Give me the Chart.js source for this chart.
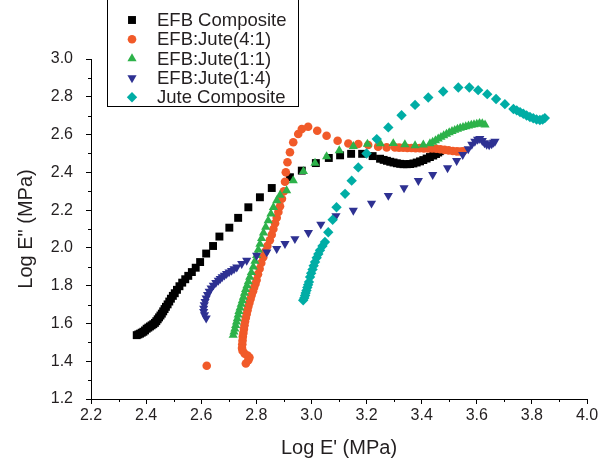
<!DOCTYPE html>
<html lang="en">
<head>
  <meta charset="UTF-8" />
  <title>Log E'' vs Log E'</title>
  <script src="https://cdn.jsdelivr.net/npm/chart.js"></script>
  <style>
    body { margin: 0; background: #fff; }
  </style>
</head>
<body>
  <canvas id="coleChart" width="612" height="466"></canvas>

  <script>
    // series labels (legend order)
    const seriesNames = ['EFB Composite', 'EFB:Jute(4:1)', 'EFB:Jute(1:1)', 'EFB:Jute(1:4)', 'Jute Composite'];

    // [log E', log E'']
    const efbComposite = [
      [2.366,1.538],[2.372,1.542],[2.378,1.546],[2.384,1.551],[2.390,1.556],[2.396,1.563],[2.402,1.572],
      [2.408,1.578],[2.414,1.584],[2.420,1.590],[2.426,1.596],[2.432,1.603],[2.437,1.612],[2.442,1.622],
      [2.447,1.632],[2.452,1.642],[2.457,1.652],[2.462,1.664],[2.467,1.676],[2.472,1.688],[2.478,1.701],
      [2.484,1.716],[2.490,1.731],[2.497,1.746],[2.504,1.760],[2.512,1.778],[2.521,1.797],[2.531,1.816],
      [2.542,1.834],[2.553,1.852],[2.566,1.872],[2.580,1.895],[2.596,1.925],[2.618,1.970],[2.643,2.010],
      [2.666,2.060],[2.702,2.107],[2.734,2.159],[2.771,2.215],[2.813,2.268],[2.856,2.317],[2.922,2.374],
      [2.965,2.409],[3.016,2.449],[3.063,2.476],[3.104,2.490],[3.144,2.498],[3.184,2.498],[3.222,2.486],
      [3.249,2.472],[3.262,2.466],[3.274,2.461],[3.286,2.456],[3.298,2.452],[3.310,2.448],[3.322,2.445],
      [3.334,2.443],[3.346,2.443],[3.358,2.444],[3.370,2.447],[3.382,2.452],[3.394,2.458],[3.406,2.465],
      [3.418,2.473],[3.430,2.481],[3.442,2.489],[3.452,2.497],[3.460,2.505],[3.466,2.512]
    ];
    const efbJute41 = [
      [2.620,1.376],
      [2.762,1.388],[2.771,1.405],[2.775,1.420],[2.768,1.430],[2.758,1.440],[2.750,1.455],[2.748,1.470],
      [2.749,1.490],[2.750,1.510],[2.751,1.530],[2.753,1.550],[2.755,1.570],[2.757,1.590],[2.759,1.610],
      [2.762,1.630],[2.765,1.650],[2.768,1.670],[2.771,1.690],[2.775,1.710],[2.779,1.730],[2.783,1.750],
      [2.788,1.770],[2.792,1.790],[2.797,1.810],[2.801,1.830],[2.806,1.860],[2.812,1.890],[2.818,1.920],
      [2.825,1.950],[2.832,1.980],[2.840,2.010],[2.849,2.040],[2.856,2.070],[2.862,2.100],[2.868,2.130],
      [2.874,2.160],[2.880,2.190],[2.886,2.220],[2.893,2.260],[2.900,2.300],[2.904,2.350],[2.907,2.400],
      [2.913,2.453],[2.922,2.506],[2.934,2.559],[2.952,2.603],[2.965,2.629],[2.988,2.641],[3.021,2.620],
      [3.055,2.594],[3.095,2.567],[3.134,2.553],[3.170,2.550],[3.206,2.545],[3.242,2.536],[3.273,2.532],
      [3.303,2.532],[3.318,2.531],[3.333,2.530],[3.348,2.529],[3.363,2.529],[3.378,2.528],[3.393,2.528],
      [3.408,2.527],[3.423,2.527],[3.438,2.526],[3.453,2.525],[3.468,2.522],[3.483,2.519],[3.498,2.516],
      [3.513,2.513],[3.528,2.511],[3.540,2.510],[3.550,2.512]
    ];
    const efbJute11 = [
      [2.716,1.538],[2.719,1.555],[2.722,1.572],[2.725,1.590],[2.728,1.608],[2.731,1.626],[2.734,1.645],
      [2.737,1.664],[2.741,1.683],[2.745,1.702],[2.749,1.721],[2.753,1.740],[2.757,1.760],[2.761,1.780],
      [2.766,1.800],[2.771,1.822],[2.776,1.845],[2.782,1.870],[2.789,1.900],[2.795,1.930],[2.801,1.960],
      [2.807,1.990],[2.813,2.020],[2.819,2.050],[2.826,2.080],[2.834,2.110],[2.843,2.145],[2.853,2.180],
      [2.862,2.215],[2.874,2.250],[2.886,2.280],[2.910,2.303],[2.934,2.356],[2.971,2.405],[3.013,2.449],
      [3.055,2.483],[3.101,2.515],[3.152,2.538],[3.203,2.550],[3.250,2.552],[3.297,2.553],[3.339,2.547],
      [3.376,2.542],[3.406,2.546],[3.430,2.552],[3.440,2.560],[3.450,2.568],[3.460,2.577],[3.470,2.586],
      [3.480,2.595],[3.490,2.603],[3.500,2.610],[3.510,2.617],[3.520,2.623],[3.530,2.629],[3.540,2.634],
      [3.550,2.638],[3.560,2.642],[3.570,2.646],[3.580,2.650],[3.590,2.653],[3.600,2.656],[3.610,2.659],
      [3.620,2.658],[3.630,2.652]
    ];
    const efbJute14 = [
      [2.618,1.628],[2.612,1.645],[2.609,1.662],[2.609,1.680],[2.611,1.698],[2.614,1.716],[2.618,1.734],
      [2.623,1.752],[2.629,1.770],[2.636,1.787],[2.644,1.802],[2.653,1.816],[2.662,1.828],[2.669,1.837],
      [2.676,1.846],[2.684,1.855],[2.692,1.863],[2.701,1.872],[2.710,1.880],[2.719,1.889],[2.729,1.898],
      [2.747,1.916],[2.765,1.934],[2.801,1.960],[2.838,1.978],[2.874,1.996],[2.904,2.022],[2.940,2.048],
      [2.989,2.081],[3.034,2.125],[3.089,2.170],[3.152,2.198],[3.218,2.236],[3.279,2.277],[3.336,2.317],
      [3.388,2.356],[3.440,2.388],[3.494,2.423],[3.527,2.462],[3.549,2.494],[3.569,2.524],[3.582,2.548],
      [3.593,2.564],[3.603,2.574],[3.611,2.578],[3.620,2.568],[3.628,2.556],[3.636,2.548],[3.645,2.545],
      [3.654,2.550],[3.660,2.558],[3.666,2.564]
    ];
    const juteComposite = [
      [2.970,1.723],[2.974,1.735],[2.977,1.748],[2.979,1.761],[2.982,1.775],[2.985,1.790],[2.988,1.805],
      [2.991,1.820],[2.995,1.846],[2.999,1.866],[3.004,1.886],[3.008,1.906],[3.013,1.925],[3.019,1.948],
      [3.025,1.968],[3.031,1.987],[3.040,2.010],[3.049,2.031],[3.061,2.083],[3.077,2.149],[3.091,2.215],
      [3.122,2.286],[3.146,2.356],[3.170,2.426],[3.200,2.500],[3.237,2.576],[3.279,2.638],[3.327,2.702],
      [3.376,2.757],[3.424,2.796],[3.478,2.828],[3.533,2.849],[3.573,2.849],[3.605,2.835],[3.638,2.814],
      [3.670,2.788],[3.702,2.761],[3.733,2.735],[3.745,2.728],[3.757,2.719],[3.769,2.710],[3.781,2.701],
      [3.793,2.693],[3.805,2.686],[3.817,2.680],[3.829,2.677],[3.839,2.680],[3.847,2.687]
    ];

    const seriesData = [efbComposite, efbJute41, efbJute11, efbJute14, juteComposite];
    const seriesColors = ['#000000', '#f15a29', '#2db24a', '#2e3192', '#00ada5'];
    const seriesStyles = ['rect', 'circle', 'triangle', 'triangle', 'rectRot'];
    const seriesRotation = [0, 0, 0, 180, 0];
    const seriesRadius = [5.6, 4.3, 5.3, 5.3, 5.2];

    const textColor = '#231f20';
    const fontFamily = '"Liberation Sans", Arial, sans-serif';

    // legend box drawn inside the plot, top left
    const boxLegend = {
      id: 'boxLegend',
      afterDraw(chart) {
        const ctx = chart.ctx;
        ctx.save();
        ctx.fillStyle = '#fff';
        ctx.fillRect(107.5, -1.5, 191, 108);
        ctx.strokeStyle = '#000';
        ctx.lineWidth = 1;
        ctx.strokeRect(107.5, -1.5, 191, 108);
        chart.data.datasets.forEach((ds, i) => {
          const y = 20 + i * 19.3;
          ctx.fillStyle = ds.backgroundColor;
          Chart.helpers.drawPoint(ctx, {
            pointStyle: ds.pointStyle,
            rotation: ds.pointRotation,
            radius: ds.pointRadius,
            borderWidth: 0
          }, 132, y);
          ctx.fillStyle = textColor;
          ctx.font = '18.5px ' + fontFamily;
          ctx.textBaseline = 'middle';
          ctx.textAlign = 'left';
          ctx.fillText(ds.label, 157, y + 1);
        });
        ctx.restore();
      }
    };

    // short minor ticks halfway between the labelled ones
    const minorTicks = {
      id: 'minorTicks',
      afterDraw(chart) {
        const {ctx, scales: {x, y}} = chart;
        ctx.save();
        ctx.strokeStyle = '#000';
        ctx.lineWidth = 1;
        ctx.beginPath();
        for (let i = 0; i < x.ticks.length - 1; i++) {
          const px = Math.round((x.getPixelForValue(x.ticks[i].value) + x.getPixelForValue(x.ticks[i + 1].value)) / 2) + 0.5;
          ctx.moveTo(px, x.top);
          ctx.lineTo(px, x.top + 3);
        }
        for (let i = 0; i < y.ticks.length - 1; i++) {
          const py = Math.round((y.getPixelForValue(y.ticks[i].value) + y.getPixelForValue(y.ticks[i + 1].value)) / 2) + 0.5;
          ctx.moveTo(y.right, py);
          ctx.lineTo(y.right - 3, py);
        }
        ctx.stroke();
        ctx.restore();
      }
    };

    const ctx = document.getElementById('coleChart').getContext('2d');
    new Chart(ctx, {
      type: 'scatter',
      data: {
        datasets: seriesNames.map((name, i) => ({
          label: name,
          data: seriesData[i].map(p => ({x: p[0], y: p[1]})),
          backgroundColor: seriesColors[i],
          borderColor: seriesColors[i],
          pointStyle: seriesStyles[i],
          pointRotation: seriesRotation[i],
          pointRadius: seriesRadius[i],
          pointBorderWidth: 0,
          showLine: false,
          order: seriesNames.length - i
        }))
      },
      options: {
        responsive: false,
        animation: false,
        layout: { padding: { top: 59, right: 25, left: 0, bottom: 0 } },
        plugins: {
          legend: { display: false },
          tooltip: { enabled: false }
        },
        scales: {
          x: {
            type: 'linear',
            min: 2.2,
            max: 4.0,
            afterFit: s => { s.height = 67; },
            border: { display: true, color: '#000', width: 1 },
            grid: { display: true, drawOnChartArea: false, drawTicks: true, tickLength: 5, color: '#000' },
            ticks: {
              stepSize: 0.2,
              padding: 2,
              color: textColor,
              font: { family: fontFamily, size: 16 },
              callback: v => Number(v).toFixed(1)
            },
            title: {
              display: true,
              text: "Log E' (MPa)",
              color: textColor,
              font: { family: fontFamily, size: 20 },
              padding: { top: 0, bottom: 6 }
            }
          },
          y: {
            type: 'linear',
            min: 1.2,
            max: 3.0,
            afterFit: s => { s.width = 91; },
            border: { display: true, color: '#000', width: 1 },
            grid: { display: true, drawOnChartArea: false, drawTicks: true, tickLength: 5, color: '#000' },
            ticks: {
              stepSize: 0.2,
              padding: 13,
              color: textColor,
              font: { family: fontFamily, size: 16 },
              callback: v => Number(v).toFixed(1)
            },
            title: {
              display: true,
              text: 'Log E" (MPa)',
              color: textColor,
              font: { family: fontFamily, size: 20 },
              padding: { top: 14, bottom: 0 }
            }
          }
        }
      },
      plugins: [minorTicks, boxLegend]
    });
  </script>
</body>
</html>
